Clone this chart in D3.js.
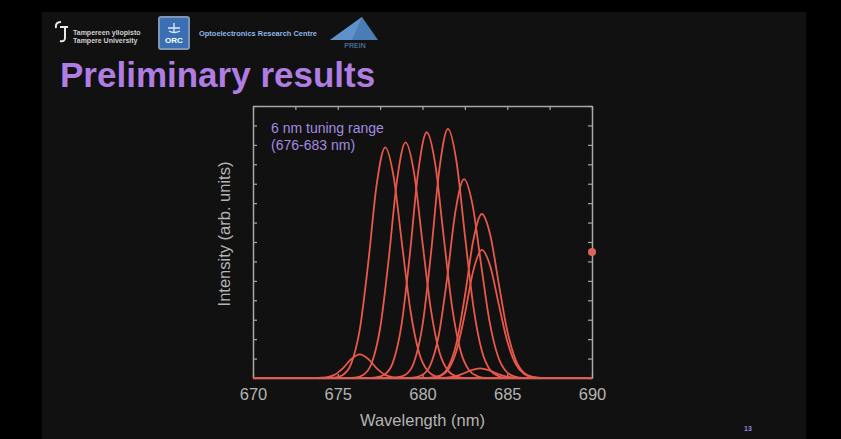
<!DOCTYPE html>
<html>
<head>
<meta charset="utf-8">
<script src="https://cdn.jsdelivr.net/npm/d3@7"></script>
<style>
  html, body { margin: 0; padding: 0; background: #000; }
  svg { display: block; }
</style>
</head>
<body>
<svg id="chart" width="841" height="439"></svg>
<script>
// ---------------- data ----------------
const title = "Preliminary results";
const xLabel = "Wavelength (nm)";
const yLabel = "Intensity (arb. units)";
const annotationLines = ["6 nm tuning range", "(676-683 nm)"];
const xTickValues = [670, 675, 680, 685, 690];
const xMinorTickValues = [670, 672.5, 675, 677.5, 680, 682.5, 685, 687.5, 690];
const yTickValues = [0,1,2,3,4,5,6,7,8,9,10,11,12,13,14];
const pageNumber = "13";

// each spectrum: [wavelength nm, intensity arb. units]
const spectrum1 = [[670,0],[673.8,0.005],[674.3,0.03],[674.8,0.16],[675.3,0.5],[675.8,0.98],[676.3,1.22],[676.8,0.98],[677.3,0.5],[677.8,0.16],[678.3,0.03],[678.8,0.005],[690,0]];
const spectrum2 = [[670,0],[674.3,0.0],[674.8,0.02],[675.3,0.16],[675.8,0.75],[676.3,2.5],[676.8,5.94],[677.3,9.98],[677.8,11.87],[678.3,10.34],[678.8,6.83],[679.3,3.41],[679.8,1.29],[680.3,0.37],[680.8,0.08],[681.3,0.0],[690,0]];
const spectrum3 = [[670,0],[675.5,0.0],[676.0,0.02],[676.5,0.16],[677.0,0.76],[677.5,2.56],[678.0,6.07],[678.5,10.2],[679.0,12.13],[679.5,10.57],[680.0,6.97],[680.5,3.49],[681.0,1.32],[681.5,0.38],[682.0,0.08],[682.5,0.0],[690,0]];
const spectrum4 = [[670,0],[676.75,0.0],[677.25,0.03],[677.75,0.17],[678.25,0.79],[678.75,2.67],[679.25,6.33],[679.75,10.64],[680.25,12.65],[680.75,11.02],[681.25,7.27],[681.75,3.64],[682.25,1.38],[682.75,0.4],[683.25,0.09],[683.75,0.0],[690,0]];
const spectrum5 = [[670,0],[678.0,0.0],[678.5,0.03],[679.0,0.17],[679.5,0.81],[680.0,2.71],[680.5,6.41],[681.0,10.78],[681.5,12.82],[682.0,11.17],[682.5,7.37],[683.0,3.69],[683.5,1.4],[684.0,0.4],[684.5,0.09],[685.0,0.0],[690,0]];
const spectrum6 = [[670,0],[678.95,0.0],[679.45,0.02],[679.95,0.14],[680.45,0.64],[680.95,2.16],[681.45,5.12],[681.95,8.61],[682.45,10.24],[682.95,8.92],[683.45,5.89],[683.95,2.94],[684.45,1.12],[684.95,0.32],[685.45,0.07],[685.95,0.0],[690,0]];
const spectrum7 = [[670,0],[680.0,0.0],[680.5,0.02],[681.0,0.11],[681.5,0.53],[682.0,1.78],[682.5,4.22],[683.0,7.1],[683.5,8.44],[684.0,7.35],[684.5,4.85],[685.0,2.43],[685.5,0.92],[686.0,0.26],[686.5,0.06],[687.0,0.0],[690,0]];
const spectrum8 = [[670,0],[680.0,0.0],[680.5,0.01],[681.0,0.09],[681.5,0.41],[682.0,1.39],[682.5,3.3],[683.0,5.54],[683.5,6.59],[684.0,5.74],[684.5,3.79],[685.0,1.89],[685.5,0.72],[686.0,0.21],[686.5,0.04],[687.0,0.0],[690,0]];
const spectrum9 = [[670,0],[680.9,0.0],[681.4,0.02],[681.9,0.09],[682.4,0.23],[682.9,0.41],[683.4,0.5],[683.9,0.41],[684.4,0.23],[684.9,0.09],[685.4,0.02],[685.9,0.0],[690,0]];
const spectra = [spectrum1, spectrum2, spectrum3, spectrum4, spectrum5, spectrum6, spectrum7, spectrum8, spectrum9];

// pointer dot visible on the right frame
const pointerDot = [690, 6.48];

// ---------------- drawing ----------------
const svg = d3.select("#chart");
const W = 841, H = 439;

// slide background
svg.append("rect").attr("x", 0).attr("y", 0).attr("width", W).attr("height", H).attr("fill", "#000");
svg.append("rect").attr("x", 42).attr("y", 12).attr("width", 764).attr("height", H - 12).attr("fill", "#111111");

// ---- header logos ----
const logos = svg.append("g");
// Tampere University mark
logos.append("path")
  .attr("d", "M56,28 Q55,22 61,22 M60,27 L68,27 M65,27 L65,38 Q65,42 60,41")
  .attr("fill", "none").attr("stroke", "#e8e8e8").attr("stroke-width", 2);
logos.append("text").attr("x", 73).attr("y", 35).text("Tampereen yliopisto")
  .attr("font-family", "Liberation Sans, Arial, sans-serif").attr("font-size", 7).attr("font-weight", "bold").attr("fill", "#d0d0d0");
logos.append("text").attr("x", 73).attr("y", 43).text("Tampere University")
  .attr("font-family", "Liberation Sans, Arial, sans-serif").attr("font-size", 7).attr("font-weight", "bold").attr("fill", "#d0d0d0");
// ORC box
logos.append("rect").attr("x", 159).attr("y", 17).attr("width", 30).attr("height", 32).attr("rx", 2)
  .attr("fill", "#3b6fb3").attr("stroke", "#7f97b5").attr("stroke-width", 2);
logos.append("path").attr("d", "M168,28 L180,28 M174,23 L174,33 M169,31 Q174,34 180,31")
  .attr("fill", "none").attr("stroke", "#dde8f5").attr("stroke-width", 1.3);
logos.append("text").attr("x", 174).attr("y", 43).attr("text-anchor", "middle").text("ORC")
  .attr("font-family", "Liberation Sans, Arial, sans-serif").attr("font-size", 8).attr("font-weight", "bold").attr("fill", "#ffffff");
logos.append("text").attr("x", 199).attr("y", 36).text("Optoelectronics Research Centre")
  .attr("textLength", 118).attr("lengthAdjust", "spacingAndGlyphs")
  .attr("font-family", "Liberation Sans, Arial, sans-serif").attr("font-size", 7.5).attr("font-weight", "bold").attr("fill", "#8db5e6");
// PREIN triangle
logos.append("path").attr("d", "M330,40 L362,17 L378,40 Z").attr("fill", "#4a7db6");
logos.append("path").attr("d", "M330,40 L362,17 L352,40 Z").attr("fill", "#5f92c8");
logos.append("text").attr("x", 355).attr("y", 48).attr("text-anchor", "middle").text("PREIN")
  .attr("font-family", "Liberation Sans, Arial, sans-serif").attr("font-size", 7).attr("fill", "#5f8fc5");

// title
svg.append("text").attr("x", 60).attr("y", 87).text(title)
  .attr("font-family", "Liberation Sans, Arial, sans-serif").attr("font-size", 35).attr("font-weight", "bold")
  .attr("fill", "#b07de2");

// page number
svg.append("text").attr("x", 748).attr("y", 431).attr("text-anchor", "middle").text(pageNumber)
  .attr("font-family", "Liberation Sans, Arial, sans-serif").attr("font-size", 7).attr("font-weight", "bold").attr("fill", "#9c83e0");

// ---- plot ----
const plotLeft = 253, plotRight = 592, plotTop = 106, plotBottom = 378;
const x = d3.scaleLinear().domain([670, 690]).range([plotLeft, plotRight]);
const y = d3.scaleLinear().domain([0, 14]).range([plotBottom, plotTop]);
const frameColor = "#a9a9a9";
const font = "Liberation Sans, Arial, sans-serif";

function styleAxis(g) {
  g.select(".domain").attr("stroke", frameColor).attr("stroke-width", 1.5);
  g.selectAll(".tick line").attr("stroke", frameColor).attr("stroke-width", 1.2);
}

// top axis (ticks inward)
svg.append("g").attr("transform", `translate(0,${plotTop})`)
  .call(d3.axisTop(x).tickValues(xMinorTickValues).tickSizeInner(-4).tickSizeOuter(0).tickFormat(""))
  .call(styleAxis);
// left axis
svg.append("g").attr("transform", `translate(${plotLeft},0)`)
  .call(d3.axisLeft(y).tickValues(yTickValues).tickSizeInner(-4).tickSizeOuter(0).tickFormat(""))
  .call(styleAxis);
// right axis
svg.append("g").attr("transform", `translate(${plotRight},0)`)
  .call(d3.axisRight(y).tickValues(yTickValues).tickSizeInner(-4).tickSizeOuter(0).tickFormat(""))
  .call(styleAxis);
// bottom axis with labels
const xAxisG = svg.append("g").attr("transform", `translate(0,${plotBottom})`)
  .call(d3.axisBottom(x).tickValues(xTickValues).tickSizeInner(-4).tickSizeOuter(0).tickPadding(10).tickFormat(d3.format("d")))
  .call(styleAxis);
xAxisG.selectAll(".tick text").attr("font-family", font).attr("font-size", 16.5).attr("fill", "#b4b4b4");

// axis titles
svg.append("text").attr("x", (plotLeft + plotRight) / 2).attr("y", 426).attr("text-anchor", "middle").text(xLabel)
  .attr("font-family", font).attr("font-size", 16.5).attr("fill", "#b4b4b4");
svg.append("text").attr("transform", `translate(230,234) rotate(-90)`).attr("text-anchor", "middle").text(yLabel)
  .attr("font-family", font).attr("font-size", 16.5).attr("fill", "#b4b4b4");

// annotation
annotationLines.forEach((t, i) => {
  svg.append("text").attr("x", 271).attr("y", 133 + i * 17).text(t)
    .attr("font-family", font).attr("font-size", 14).attr("fill", "#a38be0");
});

// spectra
const line = d3.line().x(d => x(d[0])).y(d => y(d[1])).curve(d3.curveMonotoneX);
svg.append("g").selectAll("path").data(spectra).join("path")
  .attr("d", line).attr("fill", "none").attr("stroke", "#e8584b").attr("stroke-width", 1.8)
  .attr("stroke-linejoin", "round");

// pointer dot
svg.append("circle").attr("cx", x(pointerDot[0])).attr("cy", y(pointerDot[1])).attr("r", 4)
  .attr("fill", "#dc6459");
</script>
</body>
</html>
